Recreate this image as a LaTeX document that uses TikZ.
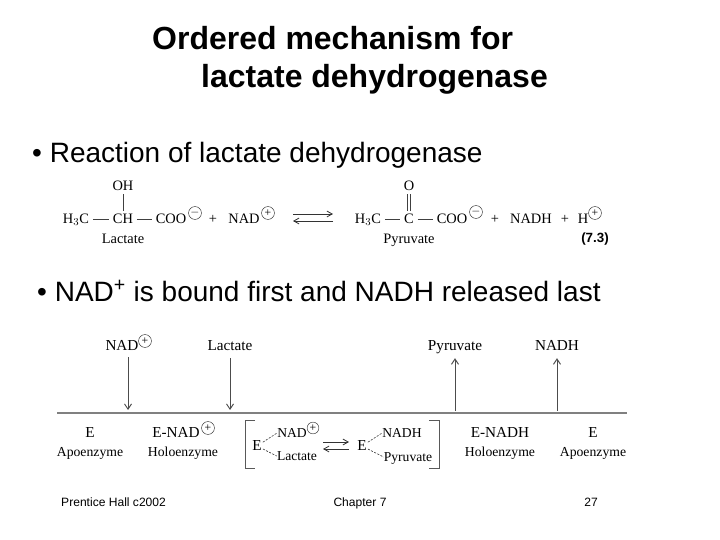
\documentclass[tikz,border=0pt]{standalone}
\usepackage{fontspec}
\setmainfont{Liberation Serif}
\setsansfont{Liberation Sans}
\usetikzlibrary{arrows.meta}
\tikzset{
  titletext/.style={anchor=base west,inner sep=0pt,font=\sffamily\bfseries\fontsize{27.3}{30}\selectfont},
  bullettext/.style={anchor=base west,inner sep=0pt,font=\sffamily\fontsize{23.9}{26}\selectfont},
  foottext/.style={anchor=base,inner sep=0pt,font=\sffamily\fontsize{10.3}{12}\selectfont},
  chem/.style={inner sep=1pt,text height=8pt,text depth=0pt,font=\fontsize{12.3}{14}\selectfont},
  bigname/.style={inner sep=0pt,text height=8.5pt,text depth=0pt,font=\fontsize{13}{14}\selectfont},
  subname/.style={inner sep=0pt,text height=8pt,text depth=1pt,font=\fontsize{11.7}{13}\selectfont},
  smallname/.style={inner sep=0pt,text height=8pt,text depth=1pt,font=\fontsize{11.6}{13}\selectfont},
  charge/.style={circle,draw=black!80,line width=0.4pt,inner sep=0pt,minimum size=11pt,font=\fontsize{10}{10}\selectfont},
  bond/.style={black!75,line width=0.6pt,shorten >=2pt,shorten <=2pt},
  flow/.style={black!70,line width=0.8pt,-{Straight Barb[length=4.5pt,width=6pt]}},
  eqarrow/.style={black!80,line width=0.7pt,-{Straight Barb[length=4.5pt,width=5pt]}},
  bracketline/.style={black!65,line width=0.7pt},
  binding/.style={black!80,line width=0.5pt,dash pattern=on 1.8pt off 1.2pt,shorten <=1pt},
}
\begin{document}
\begin{tikzpicture}[x=0.03cm,y=-0.03cm]
\useasboundingbox (0,0) rectangle (720,540);

% Title
\node[titletext] (title1) at (152,50) {Ordered mechanism for};
\node[titletext] (title2) at (201,88) {lactate dehydrogenase};

% Bullets
\node[bullettext] (bullet1) at (32,163) {• Reaction of lactate dehydrogenase};
\node[bullettext] (bullet2) at (37,302) {• NAD\textsuperscript{+} is bound first and NADH released last};

% Reaction, left side
\node[chem] (oh) at (123,186) {OH};
\node[chem] (h3c) at (76,219) {H$_3$C};
\node[chem] (ch) at (123,219) {CH};
\node[chem] (coo) at (171,219) {COO};
\node[charge] (cooneg) at (195,213) {$-$};
\node[chem] (plusa) at (213,219) {+};
\node[chem] (nad) at (244,219) {NAD};
\node[charge] (nadpos) at (268,213) {+};
\node[chem] (lactate) at (123,239) {Lactate};
\draw[bond] (h3c) -- (ch);
\draw[bond] (ch) -- (coo);
\draw[bond] (oh) -- (ch);
\coordinate (eqa) at (293,214);
\coordinate (eqb) at (333,214);
\coordinate (eqc) at (333,221);
\coordinate (eqd) at (293,221);
\draw[eqarrow] (eqa) -- (eqb);
\draw[eqarrow] (eqc) -- (eqd);

% Reaction, right side
\node[chem] (oxy) at (409,186) {O};
\node[chem] (h3cb) at (368,219) {H$_3$C};
\node[chem] (cc) at (409,219) {C};
\node[chem] (coob) at (452,219) {COO};
\node[charge] (coobneg) at (476,212) {$-$};
\node[chem] (plusb) at (495,219) {+};
\node[chem] (nadh) at (531,219) {NADH};
\node[chem] (plusc) at (565,219) {+};
\node[chem] (hyd) at (583,219) {H};
\node[charge] (hydpos) at (595,213) {+};
\node[chem] (pyruvate) at (409,239) {Pyruvate};
\node[inner sep=0pt,font=\sffamily\bfseries\fontsize{11.4}{13}\selectfont] (eqnum) at (595,239) {(7.3)};
\draw[bond] (h3cb) -- (cc);
\draw[bond] (cc) -- (coob);
\draw[bond,double,double distance=1.6pt,line width=0.5pt] (oxy) -- (cc);

% Enzyme line
\coordinate (linea) at (57,413);
\coordinate (lineb) at (627,413);
\draw[black!50,line width=1.6pt] (linea) -- (lineb);

% Substrates and products
\node[bigname] (innad) at (122,346) {NAD};
\node[charge] (innadpos) at (145,341) {+};
\node[bigname] (inlac) at (230,346) {Lactate};
\node[bigname] (outpyr) at (455,346) {Pyruvate};
\node[bigname] (outnadh) at (557,346) {NADH};
\coordinate (ina) at (128,410);
\coordinate (inb) at (230,410);
\coordinate (outa) at (455,411);
\coordinate (outb) at (557,411);
\draw[flow] (innad.south -| ina) ++(0,6) -- (ina);
\draw[flow] ([yshift=-6pt]inlac.south) -- (inb);
\draw[flow] (outa) -- ([yshift=-6pt]outpyr.south);
\draw[flow] (outb) -- ([yshift=-6pt]outnadh.south);

% Enzyme forms
\node[bigname] (ea) at (90,433) {E};
\node[subname] (apoa) at (90,452) {Apoenzyme};
\node[bigname] (enad) at (176,433) {E-NAD};
\node[charge] (enadpos) at (208,428) {+};
\node[subname] (holoa) at (183,452) {Holoenzyme};
\node[bigname] (enadh) at (500,433) {E-NADH};
\node[subname] (holob) at (500,452) {Holoenzyme};
\node[bigname] (eb) at (593,433) {E};
\node[subname] (apob) at (593,452) {Apoenzyme};

% Ternary complexes
\draw[bracketline] (255,420) -- (245,420) -- (245,468) -- (255,468);
\draw[bracketline] (429,420) -- (439,420) -- (439,468) -- (429,468);
\node[bigname] (ec) at (257,446) {E};
\node[smallname] (cnad) at (292,433) {NAD};
\node[charge,minimum size=10pt] (cnadpos) at (313,428) {+};
\node[smallname] (clac) at (297,456) {Lactate};
\node[bigname] (ed) at (362,446) {E};
\node[smallname] (cnadh) at (402,433) {NADH};
\node[smallname] (cpyr) at (408,457) {Pyruvate};
\draw[binding] (ec) -- (cnad.west);
\draw[binding] (ec) -- (clac.west);
\draw[binding] (ed) -- (cnadh.west);
\draw[binding] (ed) -- (cpyr.west);
\coordinate (cqa) at (323,442);
\coordinate (cqb) at (349,442);
\coordinate (cqc) at (349,449);
\coordinate (cqd) at (323,449);
\draw[eqarrow] (cqa) -- (cqb);
\draw[eqarrow] (cqc) -- (cqd);

% Footer
\node[foottext,anchor=base west] (footl) at (61,506) {Prentice Hall c2002};
\node[foottext] (footm) at (360,506) {Chapter 7};
\node[foottext] (footr) at (591,506) {27};
\end{tikzpicture}
\end{document}
